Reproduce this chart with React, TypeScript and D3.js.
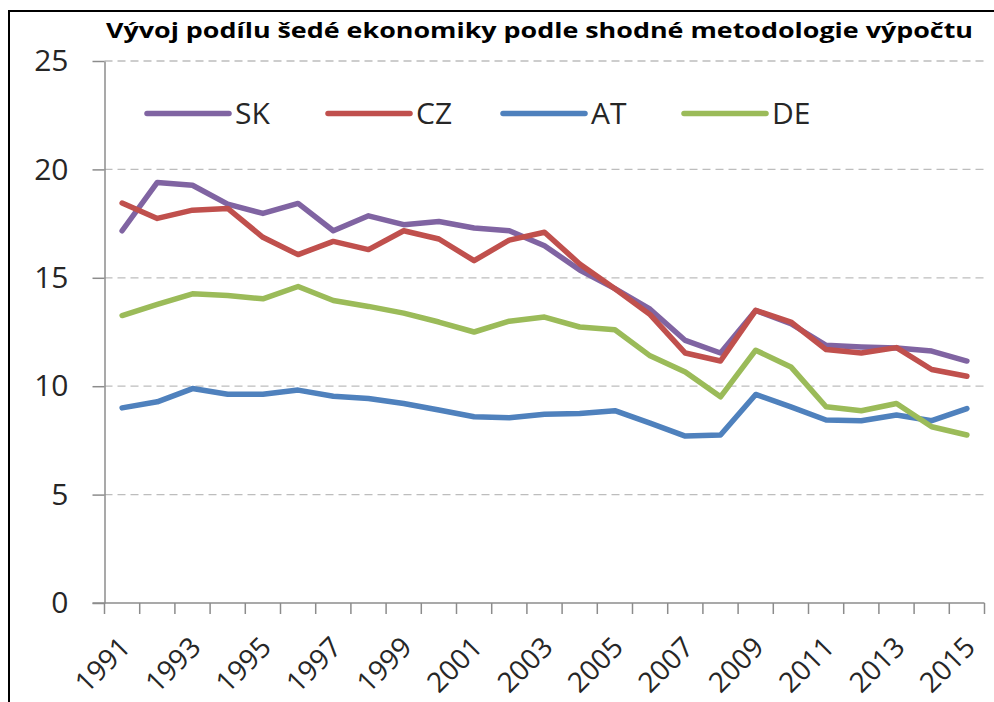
import React, { useRef, useEffect } from "react";
import * as d3 from "d3";

const years = ["1991", "1992", "1993", "1994", "1995", "1996", "1997", "1998", "1999", "2000",
  "2001", "2002", "2003", "2004", "2005", "2006", "2007", "2008", "2009", "2010",
  "2011", "2012", "2013", "2014", "2015"];
const xTickLabels = ["1991", "1993", "1995", "1997", "1999", "2001", "2003", "2005",
  "2007", "2009", "2011", "2013", "2015"];
const yTicks = [0, 5, 10, 15, 20, 25];

const sk = [17.17, 19.4, 19.27, 18.4, 17.97, 18.43, 17.17, 17.86, 17.45, 17.6, 17.3, 17.17, 16.48,
  15.36, 14.5, 13.55, 12.11, 11.53, 13.49, 12.88, 11.89, 11.81, 11.76, 11.62, 11.16];
const cz = [18.45, 17.74, 18.12, 18.2, 16.87, 16.07, 16.68, 16.3, 17.17, 16.79, 15.79, 16.74, 17.1,
  15.64, 14.49, 13.3, 11.53, 11.16, 13.5, 12.96, 11.69, 11.53, 11.78, 10.77, 10.46];
const at = [9.0, 9.28, 9.89, 9.63, 9.63, 9.82, 9.54, 9.43, 9.2, 8.9, 8.59, 8.54, 8.71,
  8.74, 8.87, 8.3, 7.7, 7.75, 9.62, 9.05, 8.44, 8.41, 8.67, 8.41, 8.97];
const de = [13.26, 13.77, 14.26, 14.18, 14.03, 14.6, 13.95, 13.68, 13.37, 12.96, 12.5, 13.0, 13.19,
  12.73, 12.6, 11.4, 10.66, 9.51, 11.66, 10.89, 9.05, 8.87, 9.2, 8.13, 7.75];

const seriesNames = ["SK", "CZ", "AT", "DE"];
const seriesValues = [sk, cz, at, de];
const colors = ["#8064A2", "#C0504D", "#4F81BD", "#9BBB59"];

const title = "Vývoj podílu šedé ekonomiky podle shodné metodologie výpočtu";

const W = 994, H = 702;
const FONT = "'Open Sans', 'Liberation Sans', sans-serif";

export default function App() {
  const ref = useRef<SVGSVGElement>(null);

  useEffect(() => {
    const svg = d3.select(ref.current);
    svg.selectAll("*").remove();

    const left = 104.5, right = 984.5, top = 61, bottom = 603;

    const x = d3.scaleBand().domain(years).range([left, right]);
    const y = d3.scaleLinear().domain([0, 25]).range([bottom, top]);

    svg.append("rect").attr("width", W).attr("height", H).attr("fill", "#fff");

    // frame round the chart
    svg.append("rect")
      .attr("x", 9).attr("y", 11)
      .attr("width", 1200).attr("height", 1200)
      .attr("fill", "none").attr("stroke", "#000").attr("stroke-width", 2);

    svg.append("text")
      .attr("x", 106).attr("y", 38)
      .attr("textLength", 867).attr("lengthAdjust", "spacingAndGlyphs")
      .style("font-family", FONT).style("font-weight", "bold").style("font-size", "21.5px")
      .attr("fill", "#000")
      .text(title);

    // gridlines
    svg.append("g").selectAll("line")
      .data(yTicks.filter(d => d > 0))
      .join("line")
      .attr("x1", left).attr("x2", right)
      .attr("y1", d => y(d)).attr("y2", d => y(d))
      .attr("stroke", "#BDBDBD").attr("stroke-width", 1.3)
      .attr("stroke-dasharray", "8,5");

    // y axis
    const yAxis = svg.append("g")
      .attr("transform", `translate(${left},0)`)
      .call(d3.axisLeft(y).tickValues(yTicks).tickSize(12).tickSizeOuter(0).tickPadding(24));
    yAxis.select(".domain").attr("stroke", "#8C8C8C").attr("stroke-width", 1.5);
    yAxis.selectAll(".tick line").attr("stroke", "#8C8C8C").attr("stroke-width", 1.5);
    yAxis.selectAll(".tick text")
      .style("font-family", FONT).style("font-size", "30px").attr("fill", "#262626");

    // x axis
    svg.append("line")
      .attr("x1", left - 12).attr("x2", right)
      .attr("y1", bottom).attr("y2", bottom)
      .attr("stroke", "#8C8C8C").attr("stroke-width", 1.5);

    const boundaries = years.map(d => x(d) as number).concat([right]);
    svg.append("g").selectAll("line")
      .data(boundaries)
      .join("line")
      .attr("x1", d => d).attr("x2", d => d)
      .attr("y1", bottom).attr("y2", bottom + 11)
      .attr("stroke", "#8C8C8C").attr("stroke-width", 1.5);

    svg.append("g").selectAll("text")
      .data(xTickLabels)
      .join("text")
      .attr("transform", d => `translate(${(x(d) as number) + x.bandwidth() / 2 + 10},${bottom + 46}) rotate(-45)`)
      .attr("text-anchor", "end")
      .style("font-family", FONT).style("font-size", "28px").attr("fill", "#262626")
      .text(d => d);

    // lines
    const line = d3.line<number>()
      .x((d, i) => (x(years[i]) as number) + x.bandwidth() / 2)
      .y(d => y(d));

    svg.append("g").selectAll("path")
      .data(seriesValues)
      .join("path")
      .attr("d", d => line(d))
      .attr("fill", "none")
      .attr("stroke", (d, i) => colors[i])
      .attr("stroke-width", 5.5)
      .attr("stroke-linejoin", "round")
      .attr("stroke-linecap", "round");

    // legend
    const legendX = [147, 328, 503, 684];
    const lg = svg.append("g").selectAll("g")
      .data(seriesNames)
      .join("g")
      .attr("transform", (d, i) => `translate(${legendX[i]},113.5)`);
    lg.append("line")
      .attr("x1", 0).attr("x2", 82)
      .attr("stroke", (d, i) => colors[i])
      .attr("stroke-width", 5.5).attr("stroke-linecap", "round");
    lg.append("text")
      .attr("x", 88).attr("dy", "0.36em")
      .style("font-family", FONT).style("font-size", "30px").attr("fill", "#262626")
      .text(d => d);
  }, []);

  return (
    <svg ref={ref} width={W} height={H}
      style={{ position: "absolute", left: 0, top: 0, display: "block" }} />
  );
}
